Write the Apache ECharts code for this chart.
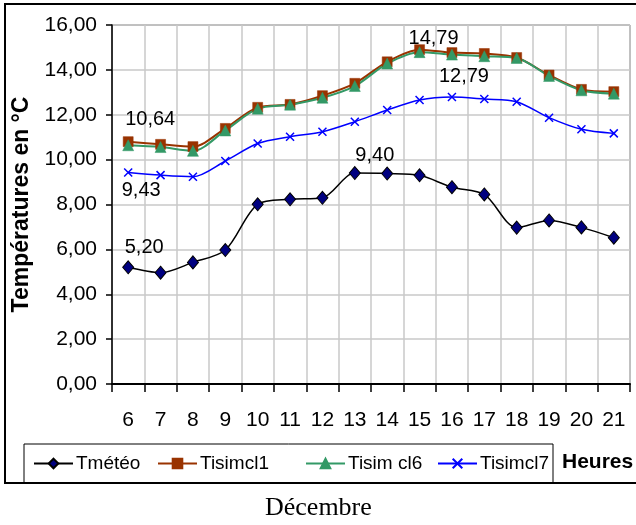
<!DOCTYPE html>
<html>
<head>
<meta charset="utf-8">
<script src="https://cdn.jsdelivr.net/npm/echarts@6/dist/echarts.min.js"></script>
<style>
  html, body { margin: 0; padding: 0; background: #ffffff; }
  #chart { width: 636px; height: 525px; }
</style>
</head>
<body>
<div id="chart"></div>
<script>
// Hours of the day (December)
var hours = ['6', '7', '8', '9', '10', '11', '12', '13', '14', '15', '16', '17', '18', '19', '20', '21'];

// Temperatures in °C
var tMeteo   = [5.20, 4.96, 5.42, 5.97, 8.01, 8.23, 8.30, 9.40, 9.38, 9.30, 8.77, 8.45, 6.97, 7.29, 6.98, 6.52];
var tSimCl1  = [10.80, 10.68, 10.58, 11.39, 12.33, 12.46, 12.85, 13.40, 14.36, 14.90, 14.77, 14.73, 14.55, 13.77, 13.13, 13.03];
var tSimCl6  = [10.64, 10.56, 10.39, 11.30, 12.27, 12.45, 12.76, 13.28, 14.28, 14.79, 14.68, 14.61, 14.53, 13.73, 13.09, 12.94];
var tSimCl7  = [9.43, 9.31, 9.24, 9.94, 10.72, 11.02, 11.24, 11.69, 12.21, 12.66, 12.79, 12.70, 12.58, 11.87, 11.35, 11.17];

var seriesNames = ['Tmétéo', 'Tisimcl1', 'Tisim cl6', 'Tisimcl7'];

// Y axis ticks
var yMin = 0, yMax = 16, yStep = 2;

var FONT = "'Liberation Sans', Arial, sans-serif";

function frNum(v) { return v.toFixed(2).replace('.', ','); }

// Attach value labels to selected points: {index: [dx, dy]}
function withLabels(values, labelled) {
  return values.map(function (v, i) {
    if (labelled[i]) {
      return {
        value: v,
        label: {
          show: true,
          position: 'inside',
          offset: labelled[i],
          formatter: function (p) { return frNum(p.value); },
          fontFamily: FONT,
          fontSize: 20,
          color: '#000',
          align: 'center',
          verticalAlign: 'middle'
        }
      };
    }
    return v;
  });
}

var chart = echarts.init(document.getElementById('chart'), null, { renderer: 'canvas' });

var legendTop = 454;
function legendItem(name, left) {
  return {
    data: [name],
    left: left,
    top: legendTop,
    padding: 0,
    itemWidth: 39,
    itemHeight: 12,
    selectedMode: false,
    textStyle: { fontFamily: FONT, fontSize: 19, color: '#000', padding: [0, 0, 0, -2] }
  };
}

var option = {
  backgroundColor: '#ffffff',
  animation: false,
  grid: {
    left: 112, right: 6, top: 25, bottom: 141,
    show: true,
    borderColor: '#555',
    borderWidth: 1
  },
  legend: [
    legendItem(seriesNames[0], 33),
    legendItem(seriesNames[1], 157),
    legendItem(seriesNames[2], 305),
    legendItem(seriesNames[3], 437)
  ],
  xAxis: {
    type: 'category',
    data: hours,
    boundaryGap: true,
    axisLine: { lineStyle: { color: '#000', width: 2 } },
    axisTick: { show: true, length: 8, lineStyle: { color: '#000', width: 1.5 } },
    axisLabel: { fontFamily: FONT, fontSize: 21, color: '#000', margin: 26 },
    splitLine: { show: true, lineStyle: { color: '#c8c8c8', width: 1.5 } }
  },
  yAxis: {
    type: 'value',
    min: yMin, max: yMax, interval: yStep,
    name: 'Températures en °C',
    nameLocation: 'middle',
    nameGap: 79,
    nameTextStyle: { fontFamily: FONT, fontSize: 23, fontWeight: 'bold', color: '#000' },
    axisLine: { show: true, lineStyle: { color: '#000', width: 1.5 } },
    axisTick: { show: true, length: 6, lineStyle: { color: '#000', width: 1.5 } },
    axisLabel: {
      fontFamily: FONT, fontSize: 21, color: '#000', margin: 15,
      formatter: function (v) { return frNum(v); }
    },
    splitLine: { show: true, lineStyle: { color: '#c8c8c8', width: 1.5 } }
  },
  series: [
    {
      name: seriesNames[0],
      type: 'line',
      smooth: 0.3,
      data: withLabels(tMeteo, { 0: [16, -20], 7: [20, -18] }),
      symbol: 'diamond',
      symbolSize: [11, 13],
      lineStyle: { color: '#000000', width: 1.5 },
      itemStyle: { color: '#000080', borderColor: '#000000', borderWidth: 1 }
    },
    {
      name: seriesNames[1],
      type: 'line',
      smooth: 0.3,
      data: tSimCl1,
      symbol: 'rect',
      symbolSize: 10,
      lineStyle: { color: '#993300', width: 2 },
      itemStyle: { color: '#993300', borderColor: '#993300', borderWidth: 0.5 }
    },
    {
      name: seriesNames[2],
      type: 'line',
      smooth: 0.3,
      data: withLabels(tSimCl6, { 0: [22, -26], 9: [14, -14] }),
      symbol: 'triangle',
      symbolSize: 11,
      lineStyle: { color: '#339966', width: 2 },
      itemStyle: { color: '#339966', borderColor: '#339966', borderWidth: 0.5 }
    },
    {
      name: seriesNames[3],
      type: 'line',
      smooth: 0.3,
      data: withLabels(tSimCl7, { 0: [13, 18], 10: [12, -21] }),
      symbol: 'path://M0,0L10,10M10,0L0,10',
      symbolSize: 8,
      lineStyle: { color: '#0000ff', width: 1.5 },
      itemStyle: { color: 'rgba(0,0,0,0)', borderColor: '#0000ff', borderWidth: 1.5 }
    }
  ],
  graphic: [
    {
      type: 'rect',
      shape: { x: 5, y: 4, width: 640, height: 479 },
      style: { fill: 'none', stroke: '#000', lineWidth: 2 },
      silent: true, z: -1
    },
    {
      type: 'rect',
      shape: { x: 24, y: 444, width: 529, height: 39 },
      style: { fill: 'none', stroke: '#000', lineWidth: 1 },
      silent: true
    },
    {
      type: 'text',
      left: 562, top: 452,
      style: { text: 'Heures', fontFamily: FONT, fontSize: 21, fontWeight: 'bold', fill: '#000' },
      silent: true
    },
    {
      type: 'text',
      left: 265, top: 495,
      style: { text: 'Décembre', fontFamily: "'Liberation Serif', 'Times New Roman', serif", fontSize: 26, fill: '#000' },
      silent: true
    }
  ]
};

chart.setOption(option);
</script>
</body>
</html>
